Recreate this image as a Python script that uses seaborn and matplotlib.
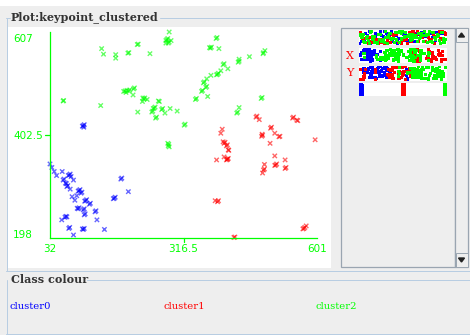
import numpy as np
import pandas as pd
import matplotlib
matplotlib.use("Agg")
import matplotlib.pyplot as plt
from matplotlib.patches import Rectangle, Polygon
from matplotlib.lines import Line2D
from matplotlib.transforms import ScaledTranslation
import seaborn as sns

# ---------------------------------------------------------------- data
clusters = ["cluster0", "cluster1", "cluster2"]
colours = {"cluster0": "#0000ff", "cluster1": "#ff0000", "cluster2": "#00ff00"}

cluster0_x = [103, 105, 101, 104, 32, 36, 41, 46, 58, 73, 75, 71, 77, 60, 62, 65, 67,
              68, 70, 75, 82, 94, 96, 92, 98, 100, 89, 79, 85, 108, 110, 106, 116, 118,
              92, 94, 90, 103, 105, 105, 107, 128, 130, 132, 64, 66, 68, 57, 72, 74, 82,
              103, 105, 101, 148, 183, 185, 199, 169, 171, 167]
cluster0_y = [421, 423, 420, 418, 345, 338, 330, 322, 330, 323, 325, 322, 320, 313, 315,
              307, 306, 300, 302, 295, 313, 292, 294, 291, 287, 289, 282, 280, 273, 272,
              274, 271, 265, 267, 256, 258, 257, 254, 256, 244, 246, 250, 252, 234, 239,
              241, 240, 234, 217, 219, 204, 215, 217, 216, 215, 315, 317, 290, 277, 279,
              276]

cluster1_x = [399, 396, 403, 405, 401, 408, 410, 412, 403, 410, 412, 387, 389, 391, 384,
              471, 473, 478, 549, 551, 558, 560, 502, 504, 484, 511, 483, 485, 520, 522,
              501, 597, 413, 408, 410, 511, 533, 489, 487, 489, 485, 513, 515, 511, 533,
              535, 573, 575, 571, 578, 424, 426]
cluster1_y = [414, 406, 386, 388, 389, 381, 383, 373, 359, 354, 356, 353, 270, 272, 272,
              438, 440, 433, 436, 438, 432, 431, 416, 418, 404, 406, 400, 402, 399, 400,
              386, 393, 372, 353, 355, 361, 353, 344, 333, 335, 327, 343, 345, 342, 336,
              338, 217, 219, 216, 222, 199, 200]

cluster2_x = [142, 146, 172, 172, 198, 200, 218, 220, 192, 196, 189, 194, 200, 202, 210,
              212, 209, 60, 61, 140, 219, 286, 281, 283, 279, 284, 286, 279, 290, 245,
              386, 388, 374, 376, 372, 392, 401, 403, 396, 389, 391, 387, 411, 375, 366,
              359, 361, 364, 366, 355, 357, 368, 342, 344, 232, 234, 230, 229, 239, 265,
              263, 254, 256, 252, 249, 251, 257, 259, 270, 272, 277, 288, 303, 318, 320,
              490, 486, 487, 457, 435, 433, 435, 482, 484, 435, 430, 432, 284, 285, 283,
              286]
cluster2_y = [574, 563, 562, 555, 565, 566, 582, 583, 490, 491, 489, 487, 490, 492, 494,
              496, 482, 470, 471, 461, 448, 607, 592, 594, 590, 585, 587, 585, 590, 564,
              594, 596, 575, 577, 576, 574, 542, 544, 530, 523, 525, 522, 534, 521, 514,
              506, 508, 497, 499, 489, 491, 479, 473, 475, 474, 476, 476, 469, 473, 469,
              470, 456, 458, 455, 448, 450, 436, 438, 453, 455, 446, 455, 450, 422, 424,
              570, 564, 566, 558, 553, 547, 549, 475, 477, 457, 446, 448, 381, 384, 386,
              379]

x_range = (32, 601)
y_range = (198, 607)
x_tick_values = [32, 316.5, 601]
x_tick_labels = ["32", "316.5", "601"]
y_tick_values = [198, 402.5, 607]
y_tick_labels = ["198", "402.5", "607"]

df = pd.DataFrame({
    "X": cluster0_x + cluster1_x + cluster2_x,
    "Y": cluster0_y + cluster1_y + cluster2_y,
    "Cluster": (["cluster0"] * len(cluster0_x) + ["cluster1"] * len(cluster1_x)
                + ["cluster2"] * len(cluster2_x)),
})
n = len(df)
df["Instance"] = (np.arange(n) * 89) % n
df["ClusterIdx"] = df["Cluster"].map({c: i for i, c in enumerate(clusters)})

# ---------------------------------------------------------------- figure helpers
W, H = 470, 335
sns.set_theme(style="white")
plt.rcParams["font.family"] = ["DejaVu Sans"]
fig = plt.figure(figsize=(W / 100, H / 100), dpi=100)
fig.patch.set_facecolor("#eeeeee")

BORDER = "#b8cde2"


def rect(x0, y0, x1, y1, z=-5, **kw):
    r = Rectangle((x0 / W, 1 - y1 / H), (x1 - x0) / W, (y1 - y0) / H,
                  transform=fig.transFigure, zorder=z, **kw)
    fig.add_artist(r)
    return r


def hline(x0, x1, y, color=BORDER, lw=1.0):
    fig.add_artist(Line2D([x0 / W, x1 / W], [1 - y / H, 1 - y / H],
                          transform=fig.transFigure, color=color, lw=lw * 0.72, zorder=-4))


def vline(x, y0, y1, color=BORDER, lw=1.0):
    fig.add_artist(Line2D([x / W, x / W], [1 - y0 / H, 1 - y1 / H],
                          transform=fig.transFigure, color=color, lw=lw * 0.72, zorder=-4))


def ftext(x, y, s, **kw):
    fig.text(x / W, 1 - y / H, s, **kw)


# ---------------------------------------------------------------- panels
rect(0, 0, W, 6, facecolor="white", edgecolor="none")
# "Plot" titled border
hline(6, 10, 17.5)
hline(160, W, 17.5)
vline(6.5, 17.5, 270.5)
hline(6, W, 270.5)
ftext(11, 17.5, "Plot:keypoint_clustered", family="DejaVu Serif", weight="bold",
      fontsize=8.0, color="#333333", va="center", ha="left")
# white plotting canvas
rect(7, 27, 331, 267.5, facecolor="white", edgecolor="none")

# attribute panel with scrollbar
rect(341, 28, 455, 267, facecolor="#eeeeee", edgecolor="#9aa5b1", lw=0.9)
rect(455, 28, 468, 267, facecolor="#eeeeee", edgecolor="#9aa5b1", lw=0.9)
rect(455.5, 28.5, 467.5, 42, z=-3, facecolor="#eeeeee", edgecolor="#9aa5b1", lw=0.7)
rect(455.5, 253, 467.5, 266.5, z=-3, facecolor="#eeeeee", edgecolor="#9aa5b1", lw=0.7)
fig.add_artist(Polygon([[458.5 / W, 1 - 37 / H], [464.5 / W, 1 - 37 / H], [461.5 / W, 1 - 33 / H]],
                       closed=True, transform=fig.transFigure, color="#222222"))
fig.add_artist(Polygon([[458.5 / W, 1 - 258 / H], [464.5 / W, 1 - 258 / H], [461.5 / W, 1 - 262 / H]],
                       closed=True, transform=fig.transFigure, color="#222222"))

# "Class colour" titled border
hline(87, W, 279.5)
vline(6.5, 279.5, 333.5)
hline(6, W, 333.5)
ftext(11, 279.5, "Class colour", family="DejaVu Serif", weight="bold",
      fontsize=8.0, color="#333333", va="center", ha="left")
for label, xpos in zip(clusters, [10, 163, 316]):
    ftext(xpos, 306.5, label, family="DejaVu Serif", fontsize=7.2,
          color=colours[label], va="center", ha="left")

# ---------------------------------------------------------------- scatter plot
ax = fig.add_axes([50 / W, 1 - 238 / H, 267 / W, 206 / H])
ax.set_zorder(5)
ax.set_facecolor("none")
sns.scatterplot(data=df, x="X", y="Y", hue="Cluster", hue_order=clusters,
                palette=colours, marker="x", s=10, linewidth=1.0, alpha=0.6,
                legend=False, ax=ax, clip_on=False)
ax.set_xlim(*x_range)
ax.set_ylim(*y_range)
ax.set_xlabel("")
ax.set_ylabel("")
for side in ["top", "right"]:
    ax.spines[side].set_visible(False)
for side in ["left", "bottom"]:
    ax.spines[side].set_color("#00ff00")
    ax.spines[side].set_linewidth(0.9)

ax.set_xticks(x_tick_values)
ax.set_xticklabels(x_tick_labels)
ax.set_yticks(y_tick_values)
ax.set_yticklabels(y_tick_labels)
ax.tick_params(axis="both", length=0, colors="#00ff00", labelsize=7.5)
ax.tick_params(axis="x", pad=4)
ax.tick_params(axis="y", pad=26.5)
for lab in ax.get_yticklabels():
    lab.set_horizontalalignment("left")
ylabs = ax.get_yticklabels()
ylabs[0].set_transform(ylabs[0].get_transform() + ScaledTranslation(0, 4 / 100, fig.dpi_scale_trans))
ylabs[2].set_transform(ylabs[2].get_transform() + ScaledTranslation(0, -6 / 100, fig.dpi_scale_trans))
# middle tick marks
ax.add_line(Line2D([0, -5 / 267], [0.5, 0.5], transform=ax.transAxes, color="#00ff00",
                   lw=0.9, clip_on=False))
ax.add_line(Line2D([0.5, 0.5], [0, -4 / 206], transform=ax.transAxes, color="#00ff00",
                    lw=0.9, clip_on=False))

# ---------------------------------------------------------------- attribute strips
idx = np.arange(n)
row_offset = (idx * idx * 0.6180339887 + idx * 0.4142135) % 1.0
strip_rows = [(30, 45, "Instance", (-2, n + 1)),
              (48, 62.5, "X", (x_range[0] - 5, x_range[1] + 5)),
              (65.5, 80.5, "Y", (y_range[0] - 5, y_range[1] + 5)),
              (83, 96.5, "ClusterIdx", (-0.06, 2.03))]
for y0, y1, col, lim in strip_rows:
    sax = fig.add_axes([359 / W, 1 - y1 / H, 88 / W, (y1 - y0) / H])
    sax.set_zorder(5)
    vals = df[col].astype(float).to_numpy()
    if col == "ClusterIdx":
        vals = vals + (((idx * 0.7548776) % 1.0) - 0.5) * 0.05
    strip = pd.DataFrame({"v": vals, "j": 0.07 + 0.86 * row_offset, "Cluster": df["Cluster"]})
    sns.scatterplot(data=strip, x="v", y="j", hue="Cluster", hue_order=clusters,
                    palette=colours, marker="s", s=5, linewidth=0, legend=False, ax=sax)
    sax.set_xlim(*lim)
    sax.set_ylim(0, 1)
    sax.set_xticks([])
    sax.set_yticks([])
    sax.set_xlabel("")
    sax.set_ylabel("")
    sax.set_facecolor("white")
    for sp in sax.spines.values():
        sp.set_visible(False)

ftext(350, 56, "X", family="DejaVu Serif", fontsize=8, color="#ff0000", ha="center", va="center")
ftext(350, 73, "Y", family="DejaVu Serif", fontsize=8, color="#ff0000", ha="center", va="center")

fig.savefig("out.png", dpi=100, facecolor=fig.get_facecolor())
